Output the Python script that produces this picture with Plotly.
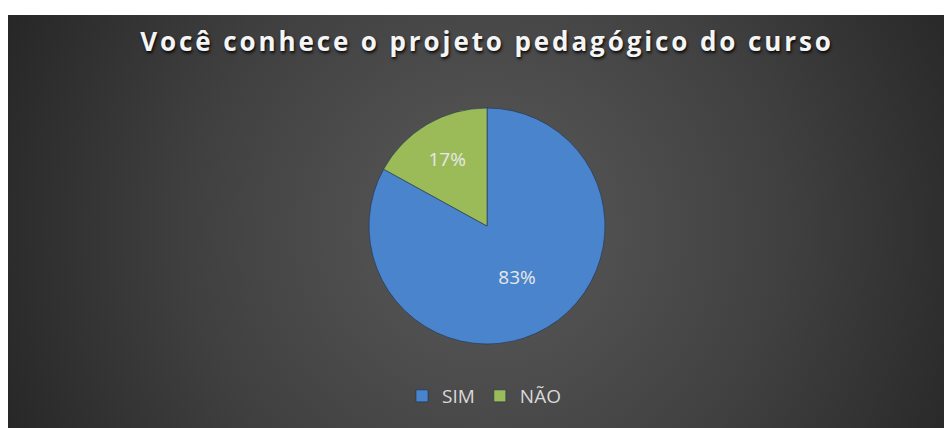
import base64
import plotly.graph_objects as go

# Browser body margin is 8px; figure coordinates = window coordinates - 8
OFF = 8
W, H = 952 - OFF, 428 - OFF

# Data
labels = ["SIM", "NÃO"]
values = [83, 17]
colors = ["#4A84CC", "#9BBB59"]
title_text = "Você conhece o projeto pedagógico do curso"

# Panel background with radial gradient (SVG data URI)
panel_x0, panel_y0 = 7 - OFF, 15 - OFF
panel_w, panel_h = W - max(panel_x0, 0), H - panel_y0
svg = f'''<svg xmlns="http://www.w3.org/2000/svg" width="{panel_w}" height="{panel_h}">
<defs><radialGradient id="g" gradientUnits="userSpaceOnUse" cx="480" cy="215" r="540">
<stop offset="0" stop-color="#5a5a5a"/><stop offset="0.55" stop-color="#404040"/><stop offset="1" stop-color="#252525"/>
</radialGradient></defs>
<rect width="{panel_w}" height="{panel_h}" fill="url(#g)"/></svg>'''
src = "data:image/svg+xml;base64," + base64.b64encode(svg.encode()).decode()

cx, cy, r = 487 - OFF, 226 - OFF, 118

fig = go.Figure(go.Pie(
    labels=labels,
    values=values,
    sort=False,
    direction="clockwise",
    rotation=0,
    marker=dict(colors=colors, line=dict(color="rgba(30,50,80,0.6)", width=1)),
    texttemplate="%{percent:.0%}",
    textposition="inside",
    insidetextorientation="horizontal",
    textfont=dict(family="Open Sans", size=19, color="#e8e8e8"),
    domain=dict(x=[(cx - r) / W, (cx + r) / W], y=[1 - (cy + r) / H, 1 - (cy - r) / H]),
    hoverinfo="label+percent",
))

fig.update_layout(
    width=W, height=H,
    margin=dict(l=0, r=0, t=0, b=0),
    paper_bgcolor="white",
    plot_bgcolor="rgba(0,0,0,0)",
    images=[dict(source=src, xref="paper", yref="paper", x=max(panel_x0, 0) / W, y=1 - panel_y0 / H,
                 sizex=panel_w / W, sizey=panel_h / H, xanchor="left", yanchor="top",
                 sizing="stretch", layer="below")],
    title=dict(
        text=f'<span style="letter-spacing:2.9px">{title_text}</span>',
        x=(487 - OFF) / W, xanchor="center", y=1 - (42 - OFF) / H, yanchor="middle",
        font=dict(family="Open Sans", size=26, color="#f5f5f5", weight="bold",
                  shadow="1px 2px 3px rgba(0,0,0,0.9)"),
    ),
    showlegend=True,
    legend=dict(orientation="h", x=(484 - OFF) / W, xanchor="center", y=1 - (396 - OFF) / H, yanchor="middle",
                font=dict(family="Open Sans", size=19, color="#d9d9d9"),
                bgcolor="rgba(0,0,0,0)", itemwidth=30),
)

fig.write_html("out.html")
